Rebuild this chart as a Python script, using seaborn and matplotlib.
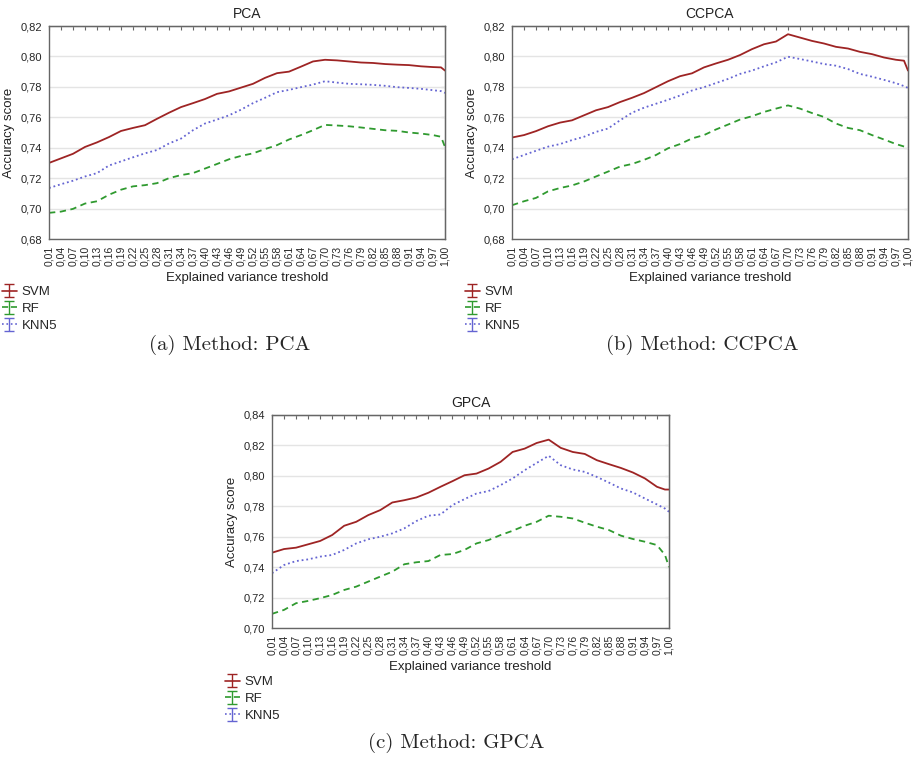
import pandas as pd
import matplotlib
matplotlib.use("Agg")
import matplotlib.pyplot as plt
import matplotlib.ticker as mticker
import seaborn as sns

# ------------------------------------------------------------
# Data
# ------------------------------------------------------------
THRESHOLDS = [0.01, 0.04, 0.07, 0.10, 0.13, 0.16, 0.19, 0.22, 0.25, 0.28,
              0.31, 0.34, 0.37, 0.40, 0.43, 0.46, 0.49, 0.52, 0.55, 0.58,
              0.61, 0.64, 0.67, 0.70, 0.73, 0.76, 0.79, 0.82, 0.85, 0.88,
              0.91, 0.94, 0.97, 0.99, 1.00]
TICKS = [0.01, 0.04, 0.07, 0.10, 0.13, 0.16, 0.19, 0.22, 0.25, 0.28,
         0.31, 0.34, 0.37, 0.40, 0.43, 0.46, 0.49, 0.52, 0.55, 0.58,
         0.61, 0.64, 0.67, 0.70, 0.73, 0.76, 0.79, 0.82, 0.85, 0.88,
         0.91, 0.94, 0.97, 1.00]

PCA_SVM = [0.7300, 0.7330, 0.7360, 0.7405, 0.7435, 0.7470, 0.7510, 0.7530, 0.7548, 0.7590,
           0.7630, 0.7667, 0.7693, 0.7720, 0.7754, 0.7770, 0.7795, 0.7820, 0.7859, 0.7890,
           0.7900, 0.7933, 0.7967, 0.7978, 0.7974, 0.7967, 0.7960, 0.7957, 0.7950, 0.7946,
           0.7943, 0.7935, 0.7930, 0.7928, 0.7907]
PCA_RF = [0.6972, 0.6980, 0.6998, 0.7033, 0.7048, 0.7091, 0.7124, 0.7146, 0.7154, 0.7167,
          0.7200, 0.7220, 0.7233, 0.7263, 0.7293, 0.7324, 0.7346, 0.7363, 0.7391, 0.7417,
          0.7454, 0.7483, 0.7515, 0.7550, 0.7546, 0.7541, 0.7533, 0.7524, 0.7515, 0.7511,
          0.7500, 0.7493, 0.7483, 0.7472, 0.7405]
PCA_KNN5 = [0.7135, 0.7160, 0.7183, 0.7211, 0.7233, 0.7283, 0.7310, 0.7337, 0.7363, 0.7385,
            0.7428, 0.7460, 0.7515, 0.7559, 0.7585, 0.7613, 0.7650, 0.7693, 0.7728, 0.7765,
            0.7780, 0.7798, 0.7815, 0.7837, 0.7828, 0.7820, 0.7817, 0.7813, 0.7807, 0.7798,
            0.7793, 0.7787, 0.7778, 0.7772, 0.7760]

CCPCA_SVM = [0.7467, 0.7483, 0.7509, 0.7541, 0.7565, 0.7580, 0.7613, 0.7646, 0.7667, 0.7700,
             0.7728, 0.7759, 0.7798, 0.7837, 0.7870, 0.7889, 0.7928, 0.7954, 0.7978, 0.8009,
             0.8048, 0.8080, 0.8098, 0.8146, 0.8124, 0.8102, 0.8085, 0.8063, 0.8052, 0.8030,
             0.8015, 0.7993, 0.7978, 0.7972, 0.7907]
CCPCA_RF = [0.7022, 0.7048, 0.7070, 0.7113, 0.7135, 0.7152, 0.7178, 0.7211, 0.7243, 0.7276,
            0.7293, 0.7320, 0.7352, 0.7396, 0.7424, 0.7461, 0.7483, 0.7520, 0.7552, 0.7585,
            0.7607, 0.7635, 0.7657, 0.7678, 0.7657, 0.7628, 0.7602, 0.7559, 0.7530, 0.7515,
            0.7483, 0.7454, 0.7424, 0.7408, 0.7402]
CCPCA_KNN5 = [0.7324, 0.7352, 0.7380, 0.7407, 0.7424, 0.7450, 0.7472, 0.7504, 0.7526, 0.7580,
              0.7630, 0.7663, 0.7689, 0.7715, 0.7743, 0.7776, 0.7798, 0.7825, 0.7852, 0.7885,
              0.7907, 0.7935, 0.7961, 0.7998, 0.7983, 0.7967, 0.7950, 0.7939, 0.7917, 0.7885,
              0.7867, 0.7846, 0.7824, 0.7805, 0.7793]

GPCA_SVM = [0.7495, 0.7519, 0.7528, 0.7550, 0.7572, 0.7611, 0.7672, 0.7698, 0.7742, 0.7775,
            0.7825, 0.7840, 0.7858, 0.7889, 0.7928, 0.7965, 0.8004, 0.8015, 0.8048, 0.8092,
            0.8157, 0.8179, 0.8216, 0.8238, 0.8184, 0.8157, 0.8144, 0.8103, 0.8077, 0.8052,
            0.8022, 0.7983, 0.7928, 0.7910, 0.7910]
GPCA_RF = [0.7093, 0.7119, 0.7163, 0.7178, 0.7196, 0.7217, 0.7250, 0.7272, 0.7305, 0.7338,
           0.7370, 0.7419, 0.7432, 0.7440, 0.7480, 0.7486, 0.7513, 0.7556, 0.7578, 0.7611,
           0.7639, 0.7672, 0.7698, 0.7738, 0.7731, 0.7720, 0.7692, 0.7666, 0.7644, 0.7607,
           0.7585, 0.7567, 0.7545, 0.7480, 0.7400]
GPCA_KNN5 = [0.7360, 0.7414, 0.7440, 0.7451, 0.7469, 0.7480, 0.7513, 0.7556, 0.7583, 0.7600,
             0.7622, 0.7655, 0.7703, 0.7738, 0.7746, 0.7808, 0.7847, 0.7884, 0.7900, 0.7939,
             0.7983, 0.8037, 0.8085, 0.8132, 0.8070, 0.8042, 0.8026, 0.7993, 0.7956, 0.7917,
             0.7891, 0.7851, 0.7812, 0.7785, 0.7764]

MODELS = ["SVM", "RF", "KNN5"]
PALETTE = {"SVM": "#9e2424", "RF": "#2f9a2f", "KNN5": "#6464d2"}
DASHES = {"SVM": "", "RF": (3.5, 2.5), "KNN5": (1, 1.6)}
LEG_STYLE = {"SVM": "-", "RF": "--", "KNN5": ":"}

panels = [
    ("PCA", [PCA_SVM, PCA_RF, PCA_KNN5], (0.68, 0.82), "(a) Method: PCA"),
    ("CCPCA", [CCPCA_SVM, CCPCA_RF, CCPCA_KNN5], (0.68, 0.82), "(b) Method: CCPCA"),
    ("GPCA", [GPCA_SVM, GPCA_RF, GPCA_KNN5], (0.70, 0.84), "(c) Method: GPCA"),
]

# ------------------------------------------------------------
# Figure layout (913 x 770 px)
# ------------------------------------------------------------
sns.set_style("white")
plt.rcParams["font.family"] = ["Liberation Sans", "DejaVu Sans"]
W, H = 913, 770
fig = plt.figure(figsize=(W / 100, H / 100), dpi=100)

# axes rectangles in pixels: left, top, right, bottom
boxes = [(49, 26, 445, 239), (512, 26, 908, 239), (272, 415, 669, 628)]
legend_pos = [(2, 286), (465, 286), (225, 676)]
caption_pos = [(230, 345), (702, 345), (456, 743)]

for (name, series, ylim, caption), box, lpos, cpos in zip(panels, boxes, legend_pos, caption_pos):
    l, t, r, b = box
    ax = fig.add_axes([l / W, 1 - b / H, (r - l) / W, (b - t) / H])

    df = pd.DataFrame({
        "threshold": THRESHOLDS * 3,
        "score": series[0] + series[1] + series[2],
        "model": sum([[m] * len(THRESHOLDS) for m in MODELS], []),
    })
    sns.lineplot(data=df, x="threshold", y="score", hue="model", style="model",
                 palette=PALETTE, dashes=DASHES, linewidth=1.3, legend=False, ax=ax)

    ax.set_xlim(0.01, 1.00)
    ax.set_ylim(*ylim)
    ax.set_xticks(TICKS)
    ax.set_xticklabels([f"{v:.2f}".replace(".", ",") for v in TICKS], rotation=90, fontsize=7.5)
    ax.yaxis.set_major_locator(mticker.MultipleLocator(0.02))
    ax.yaxis.set_major_formatter(mticker.FuncFormatter(lambda v, _: f"{v:.2f}".replace(".", ",")))
    ax.tick_params(axis="y", labelsize=8, length=3, color="#555555", pad=2)
    ax.tick_params(axis="x", length=3, color="#555555", pad=2)
    ax.yaxis.grid(True, color="#e4e4e4", linewidth=1)
    ax.xaxis.grid(False)
    for s in ax.spines.values():
        s.set_color("#666666")
        s.set_linewidth(1)

    top = ax.secondary_xaxis("top")
    top.set_xticks(TICKS)
    top.tick_params(direction="in", length=3, color="#666666", labeltop=False)
    right = ax.secondary_yaxis("right")
    right.yaxis.set_major_locator(mticker.MultipleLocator(0.02))
    right.tick_params(direction="in", length=3, color="#666666", labelright=False)

    ax.set_title(name, fontsize=10, pad=6, color="#222222")
    ax.set_xlabel("Explained variance treshold", fontsize=9.5, labelpad=4, color="#222222")
    ax.set_ylabel("Accuracy score", fontsize=9.5, labelpad=4, color="#222222")

    # error-bar style legend keys, drawn off-screen so only the legend shows them
    handles = [ax.errorbar([-5], [0], yerr=[0.01], color=PALETTE[m], capsize=3.5,
                           elinewidth=1, capthick=1, linewidth=1.2, linestyle=LEG_STYLE[m])
               for m in MODELS]
    fig.legend(handles, MODELS, loc="upper left",
               bbox_to_anchor=(lpos[0] / W, 1 - lpos[1] / H),
               frameon=False, fontsize=9.5, handlelength=1.1, handletextpad=0.4,
               labelspacing=0.35, borderpad=0, borderaxespad=0)

    fig.text(cpos[0] / W, 1 - cpos[1] / H, caption, ha="center", va="center",
             fontsize=15, family=["cmr10", "DejaVu Serif"])

fig.savefig("out.png", dpi=100)
